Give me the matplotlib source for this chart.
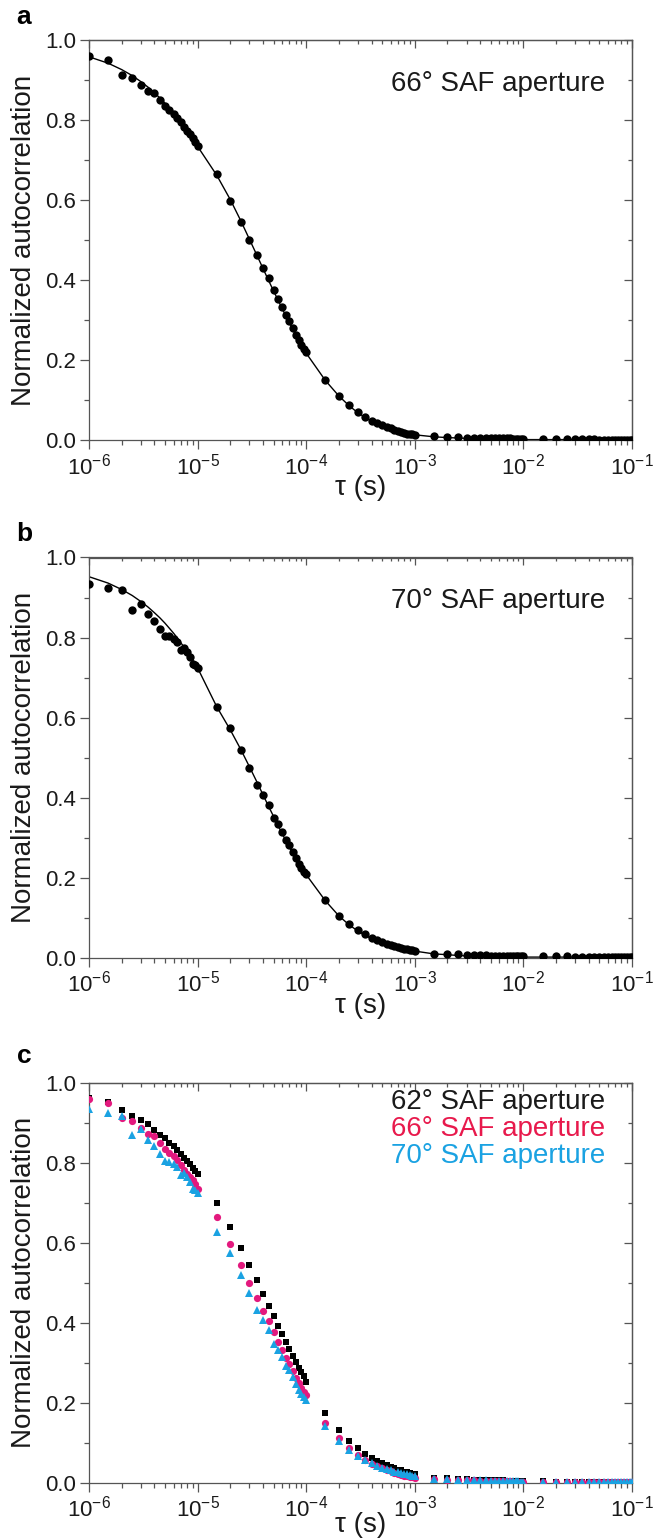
import numpy as np
import matplotlib
matplotlib.use("Agg")
import matplotlib.pyplot as plt
from matplotlib.ticker import MultipleLocator, FormatStrFormatter, LogLocator, NullFormatter

plt.rcParams['font.family'] = ['Liberation Sans', 'DejaVu Sans']
plt.rcParams['mathtext.fontset'] = 'custom'
plt.rcParams['mathtext.rm'] = 'Liberation Sans'
plt.rcParams['mathtext.it'] = 'Liberation Sans:italic'
plt.rcParams['mathtext.bf'] = 'Liberation Sans:bold'

# lag times: 1, 1.5, ... 9.5 in every decade from 1e-6, plus 0.1 s
mantissas = [1.0, 1.5, 2.0, 2.5, 3.0, 3.5, 4.0, 4.5, 5.0, 5.5, 6.0, 6.5, 7.0, 7.5, 8.0, 8.5, 9.0, 9.5]
exponents = [-6, -5, -4, -3, -2]
tau = [m * 10.0 ** e for e in exponents for m in mantissas] + [0.1]

# 62 deg SAF aperture (panel c, squares)
g62 = [0.962, 0.952, 0.932, 0.917, 0.907, 0.897, 0.882, 0.869, 0.861, 0.850, 0.842, 0.832, 0.823, 0.813, 0.805, 0.797, 0.788, 0.780,
       0.772, 0.700, 0.640, 0.588, 0.544, 0.507, 0.473, 0.443, 0.417, 0.393, 0.372, 0.353, 0.334, 0.318, 0.303, 0.288, 0.278, 0.267,
       0.252, 0.175, 0.132, 0.105, 0.087, 0.073, 0.063, 0.055, 0.049, 0.044, 0.040, 0.036, 0.033, 0.031, 0.028, 0.026, 0.025, 0.023,
       0.022, 0.013, 0.011, 0.010, 0.009, 0.008, 0.008, 0.007, 0.007, 0.006, 0.006, 0.006, 0.005, 0.005, 0.005, 0.005, 0.004, 0.004,
       0.004, 0.004, 0.003, 0.003, 0.003, 0.003, 0.003, 0.002, 0.002, 0.002, 0.002, 0.002, 0.002, 0.002, 0.002, 0.002, 0.002, 0.002,
       0.002]

# 66 deg SAF aperture (panel a and c)
g66 = [0.959, 0.950, 0.913, 0.905, 0.887, 0.872, 0.867, 0.850, 0.834, 0.825, 0.816, 0.806, 0.794, 0.783, 0.773, 0.764, 0.756, 0.746,
       0.735, 0.664, 0.598, 0.545, 0.500, 0.463, 0.430, 0.404, 0.376, 0.353, 0.333, 0.313, 0.297, 0.280, 0.263, 0.249, 0.238, 0.228,
       0.220, 0.150, 0.111, 0.087, 0.069, 0.057, 0.048, 0.042, 0.037, 0.032, 0.029, 0.025, 0.023, 0.020, 0.018, 0.016, 0.015, 0.014,
       0.013, 0.009, 0.008, 0.007, 0.006, 0.006, 0.005, 0.005, 0.005, 0.004, 0.004, 0.004, 0.004, 0.004, 0.003, 0.003, 0.003, 0.003,
       0.003, 0.003, 0.002, 0.002, 0.002, 0.002, 0.002, 0.002, 0.001, 0.001, 0.001, 0.001, 0.001, 0.001, 0.001, 0.001, 0.001, 0.001,
       0.001]

# 70 deg SAF aperture (panel b and c)
g70 = [0.935, 0.924, 0.918, 0.870, 0.885, 0.858, 0.841, 0.821, 0.804, 0.803, 0.797, 0.789, 0.770, 0.775, 0.764, 0.752, 0.735, 0.731,
       0.725, 0.627, 0.575, 0.520, 0.475, 0.431, 0.406, 0.381, 0.348, 0.333, 0.314, 0.293, 0.281, 0.264, 0.248, 0.233, 0.223, 0.214,
       0.208, 0.143, 0.104, 0.083, 0.068, 0.058, 0.049, 0.043, 0.038, 0.034, 0.031, 0.028, 0.026, 0.024, 0.022, 0.021, 0.019, 0.018,
       0.017, 0.010, 0.009, 0.008, 0.007, 0.007, 0.006, 0.006, 0.005, 0.005, 0.005, 0.005, 0.004, 0.004, 0.004, 0.004, 0.004, 0.003,
       0.003, 0.003, 0.003, 0.003, 0.002, 0.002, 0.002, 0.002, 0.002, 0.002, 0.002, 0.002, 0.002, 0.001, 0.001, 0.001, 0.001, 0.001,
       0.001]

fit66 = [0.958, 0.942, 0.926, 0.911, 0.896, 0.882, 0.868, 0.855, 0.842, 0.829, 0.817, 0.805, 0.794, 0.783, 0.772, 0.762, 0.752, 0.743,
         0.734, 0.662, 0.601, 0.548, 0.502, 0.463, 0.429, 0.399, 0.373, 0.350, 0.329, 0.310, 0.293, 0.277, 0.263, 0.250, 0.238, 0.227,
         0.217, 0.149, 0.110, 0.085, 0.068, 0.056, 0.047, 0.040, 0.035, 0.031, 0.027, 0.024, 0.022, 0.020, 0.018, 0.016, 0.015, 0.014,
         0.013, 0.008, 0.006, 0.005, 0.004, 0.003, 0.003, 0.003, 0.002, 0.002, 0.002, 0.002, 0.002, 0.001, 0.001, 0.001, 0.001, 0.001,
         0.001, 0.001, 0.001, 0.001, 0.001, 0.001, 0.000, 0.000, 0.000, 0.000, 0.000, 0.000, 0.000, 0.000, 0.000, 0.000, 0.000, 0.000,
         0.000]
fit70 = [0.952, 0.936, 0.920, 0.905, 0.890, 0.876, 0.862, 0.849, 0.836, 0.823, 0.811, 0.799, 0.787, 0.776, 0.765, 0.754, 0.744, 0.734,
         0.724, 0.627, 0.569, 0.520, 0.477, 0.440, 0.407, 0.378, 0.353, 0.330, 0.310, 0.292, 0.276, 0.261, 0.248, 0.236, 0.225, 0.216,
         0.207, 0.142, 0.104, 0.081, 0.066, 0.055, 0.047, 0.041, 0.036, 0.032, 0.029, 0.026, 0.024, 0.022, 0.020, 0.019, 0.018, 0.017,
         0.016, 0.009, 0.007, 0.005, 0.004, 0.004, 0.003, 0.003, 0.002, 0.002, 0.002, 0.002, 0.002, 0.001, 0.001, 0.001, 0.001, 0.001,
         0.001, 0.001, 0.001, 0.001, 0.001, 0.001, 0.000, 0.000, 0.000, 0.000, 0.000, 0.000, 0.000, 0.000, 0.000, 0.000, 0.000, 0.000,
         0.000]

labels_c = ['62° SAF aperture', '66° SAF aperture', '70° SAF aperture']
pink = '#E3197E'
blue = '#1AA2E2'
spine_col = '#555555'

W, H = 662, 1540
fig = plt.figure(figsize=(W / 100, H / 100), dpi=100)


def style(ax, xlab_y=-0.088):
    ax.set_xscale('log')
    ax.set_xlim(1e-6, 1e-1)
    ax.set_ylim(0, 1.0)
    ax.yaxis.set_major_locator(MultipleLocator(0.2))
    ax.yaxis.set_minor_locator(MultipleLocator(0.1))
    ax.yaxis.set_major_formatter(FormatStrFormatter('%.1f'))
    ax.xaxis.set_major_locator(LogLocator(base=10, numticks=10))
    ax.xaxis.set_minor_locator(LogLocator(base=10, subs=np.arange(2, 10), numticks=10))
    ax.tick_params(which='both', direction='out', top=False, right=False,
                   color=spine_col, width=0.9, labelsize=16, labelcolor='#1a1a1a')
    ax.tick_params(which='major', length=6.5, pad=3)
    ax.tick_params(which='minor', length=3.5)
    for s in ax.spines.values():
        s.set_color(spine_col)
        s.set_linewidth(0.9)

    # inward ticks on top and right
    top = ax.secondary_xaxis('top')
    top.xaxis.set_major_locator(LogLocator(base=10, numticks=10))
    top.xaxis.set_minor_locator(LogLocator(base=10, subs=np.arange(2, 10), numticks=10))
    top.xaxis.set_major_formatter(NullFormatter())
    top.xaxis.set_minor_formatter(NullFormatter())
    top.tick_params(which='both', direction='in', color=spine_col, width=0.9)
    top.tick_params(which='major', length=6)
    top.tick_params(which='minor', length=3)
    top.spines['top'].set_color(spine_col)
    top.spines['top'].set_linewidth(0.9)

    right = ax.secondary_yaxis('right')
    right.yaxis.set_major_locator(MultipleLocator(0.2))
    right.yaxis.set_minor_locator(MultipleLocator(0.1))
    right.yaxis.set_major_formatter(NullFormatter())
    right.tick_params(which='both', direction='in', color=spine_col, width=0.9)
    right.tick_params(which='major', length=6)
    right.tick_params(which='minor', length=3)
    right.spines['right'].set_color(spine_col)
    right.spines['right'].set_linewidth(0.9)

    ax.set_ylabel('Normalized autocorrelation', fontsize=20, color='#1a1a1a')
    ax.yaxis.set_label_coords(-0.095, 0.5)
    ax.set_xlabel('τ (s)', fontsize=20, color='#1a1a1a')
    ax.xaxis.set_label_coords(0.5, xlab_y)


x0, aw, ah = 89 / W, 543 / W, 400 / H
ax_a = fig.add_axes([x0, 1 - 440 / H, aw, ah])
ax_b = fig.add_axes([x0, 1 - 957.5 / H, aw, ah])
ax_c = fig.add_axes([x0, 1 - 1482.7 / H, aw, ah])
style(ax_a)
style(ax_b)
style(ax_c, xlab_y=-0.072)

# panel a
ax_a.plot(tau, fit66, '-', color='black', lw=1.0, zorder=2)
ax_a.plot(tau, g66, 'o', color='black', ms=6.0, mew=0, zorder=3)
ax_a.text(0.950, 0.89, '66° SAF aperture', transform=ax_a.transAxes,
          ha='right', va='center', fontsize=20, color='#1a1a1a')

# panel b
ax_b.plot(tau, fit70, '-', color='black', lw=1.0, zorder=2)
ax_b.plot(tau, g70, 'o', color='black', ms=6.0, mew=0, zorder=3)
ax_b.text(0.950, 0.89, '70° SAF aperture', transform=ax_b.transAxes,
          ha='right', va='center', fontsize=20, color='#1a1a1a')

# panel c
ax_c.plot(tau, g62, 's', color='black', ms=5.0, mew=0, zorder=3)
ax_c.plot(tau, g66, 'o', color=pink, ms=5.2, mew=0, zorder=4)
ax_c.plot(tau, g70, '^', color=blue, ms=5.8, mew=0, zorder=5)
for lab, col, yy in zip(labels_c, ['#1a1a1a', '#E8194C', blue], [0.952, 0.885, 0.818]):
    ax_c.text(0.950, yy, lab, transform=ax_c.transAxes, ha='right', va='center',
              fontsize=20, color=col)

for lab, yy in zip(['a', 'b', 'c'], [17, 534, 1056]):
    fig.text(24 / W, 1 - yy / H, lab, fontsize=19, fontweight='bold', ha='center', va='center')

fig.savefig('out.png', dpi=100)
